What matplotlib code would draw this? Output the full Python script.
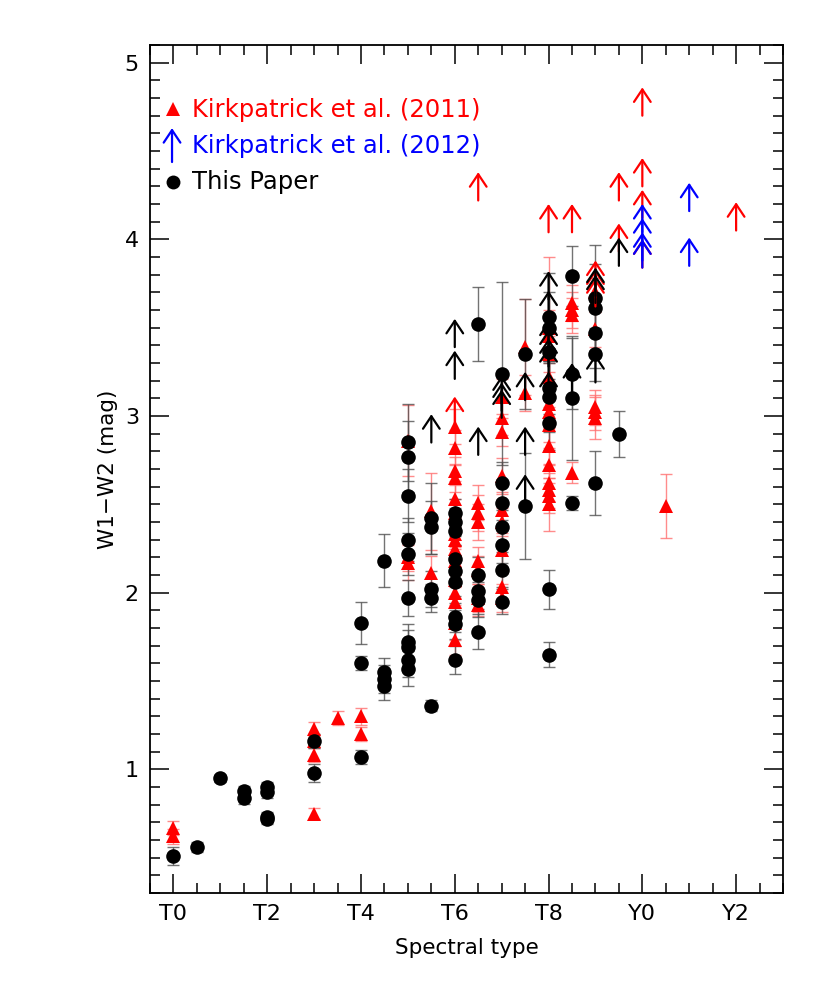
import matplotlib
matplotlib.use('Agg')
import matplotlib.pyplot as plt
from matplotlib.ticker import MultipleLocator

# Spectral type index: T0=0 ... T9=9, Y0=10, Y1=11, Y2=12
xtick_pos = [0, 2, 4, 6, 8, 10, 12]
xtick_labels = ['T0', 'T2', 'T4', 'T6', 'T8', 'Y0', 'Y2']

# Kirkpatrick et al. (2011) measurements (red triangles)
k11_x = [0, 0,
         3, 3, 3, 3, 3.5, 4, 4,
         5, 5, 5, 5.5, 5.5,
         6, 6, 6, 6, 6, 6, 6, 6, 6, 6, 6, 6, 6, 6, 6,
         6.5, 6.5, 6.5, 6.5, 6.5, 6.5, 6.5,
         7, 7, 7, 7, 7, 7, 7, 7, 7,
         7.5, 7.5,
         8, 8, 8, 8, 8, 8, 8, 8, 8, 8, 8, 8, 8,
         8.5, 8.5, 8.5, 8.5,
         9, 9, 9, 9, 9,
         10.5]
k11_y = [0.67, 0.62,
         1.23, 1.16, 1.08, 0.75, 1.29, 1.30, 1.20,
         2.86, 2.20, 2.17, 2.46, 2.11,
         2.94, 2.82, 2.69, 2.65, 2.53, 2.45, 2.33, 2.30, 2.25, 2.18, 2.07, 2.00, 1.95, 1.83, 1.73,
         2.51, 2.45, 2.40, 2.18, 2.13, 1.97, 1.93,
         3.11, 2.99, 2.91, 2.66, 2.47, 2.40, 2.24, 2.03, 1.97,
         3.39, 3.13,
         3.50, 3.45, 3.35, 3.22, 3.07, 3.02, 2.95, 2.83, 2.72, 2.62, 2.58, 2.55, 2.50,
         3.64, 3.60, 3.57, 2.68,
         3.70, 3.49, 3.05, 3.02, 2.99,
         2.49]
k11_err = [0.04, 0.04,
           0.04, 0.04, 0.04, 0.03, 0.04, 0.05, 0.04,
           0.20, 0.08, 0.10, 0.22, 0.10,
           0.10, 0.10, 0.08, 0.08, 0.10, 0.08, 0.08, 0.10, 0.10, 0.08, 0.10, 0.08, 0.08, 0.10, 0.08,
           0.10, 0.10, 0.10, 0.08, 0.08, 0.08, 0.06,
           0.10, 0.10, 0.08, 0.10, 0.10, 0.08, 0.10, 0.08, 0.08,
           0.27, 0.10,
           0.40, 0.15, 0.10, 0.10, 0.10, 0.08, 0.10, 0.10, 0.10, 0.10, 0.10, 0.10, 0.15,
           0.10, 0.10, 0.10, 0.06,
           0.08, 0.10, 0.10, 0.10, 0.12,
           0.18]

# Kirkpatrick et al. (2011) lower limits (red arrows)
k11_lim_x = [6, 6.5, 8, 8.5, 9, 9, 9, 9.5, 9.5, 10, 10, 10, 10, 12]
k11_lim_y = [2.95, 4.22, 4.04, 4.04, 3.72, 3.67, 3.62, 4.22, 3.93, 4.70, 4.30, 4.12, 3.84, 4.05]

# Kirkpatrick et al. (2012) lower limits (blue arrows)
k12_lim_x = [10, 10, 10, 10, 11, 11]
k12_lim_y = [4.04, 3.96, 3.88, 3.84, 4.16, 3.85]

# This paper measurements (black circles)
tp_x = [0, 0.5, 1, 1.5, 1.5, 2, 2, 2, 2,
        3, 3, 4, 4, 4, 4.5, 4.5, 4.5, 4.5,
        5, 5, 5, 5, 5, 5, 5, 5, 5, 5,
        5.5, 5.5, 5.5, 5.5, 5.5,
        6, 6, 6, 6, 6, 6, 6, 6, 6,
        6.5, 6.5, 6.5, 6.5, 6.5,
        7, 7, 7, 7, 7, 7, 7,
        7.5, 7.5,
        8, 8, 8, 8, 8, 8, 8, 8,
        8.5, 8.5, 8.5, 8.5,
        9, 9, 9, 9, 9,
        9.5]
tp_y = [0.51, 0.56, 0.95, 0.875, 0.835, 0.90, 0.87, 0.73, 0.72,
        1.16, 0.98, 1.83, 1.60, 1.07, 2.18, 1.55, 1.51, 1.47,
        2.85, 2.77, 2.55, 2.30, 2.22, 1.97, 1.72, 1.69, 1.62, 1.57,
        2.42, 2.37, 2.02, 1.97, 1.36,
        2.45, 2.40, 2.35, 2.19, 2.12, 2.06, 1.86, 1.82, 1.62,
        3.52, 2.10, 2.01, 1.96, 1.78,
        3.24, 2.62, 2.51, 2.37, 2.27, 2.13, 1.95,
        3.35, 2.49,
        3.56, 3.50, 3.36, 3.16, 3.11, 2.96, 2.02, 1.65,
        3.79, 3.24, 3.10, 2.51,
        3.67, 3.61, 3.47, 3.35, 2.62,
        2.90]
tp_err = [0.05, 0.03, 0.02, 0.03, 0.03, 0.03, 0.03, 0.03, 0.03,
          0.04, 0.05, 0.12, 0.04, 0.04, 0.15, 0.08, 0.08, 0.08,
          0.22, 0.20, 0.15, 0.12, 0.12, 0.10, 0.10, 0.10, 0.10, 0.10,
          0.20, 0.15, 0.10, 0.08, 0.03,
          0.08, 0.08, 0.08, 0.08, 0.08, 0.08, 0.08, 0.08, 0.08,
          0.21, 0.10, 0.10, 0.10, 0.10,
          0.52, 0.12, 0.10, 0.10, 0.10, 0.10, 0.07,
          0.31, 0.30,
          0.25, 0.20, 0.15, 0.15, 0.20, 0.15, 0.11, 0.07,
          0.17, 0.20, 0.35, 0.04,
          0.30, 0.25, 0.20, 0.15, 0.18,
          0.13]

# This paper lower limits (black arrows)
tp_lim_x = [5.5, 6, 6, 6.5, 7, 7, 7, 7.5, 7.5, 7.5,
            8, 8, 8, 8, 8, 8, 8, 8.5, 9, 9, 9, 9.5]
tp_lim_y = [2.85, 3.39, 3.21, 2.78, 3.07, 3.03, 2.99, 3.09, 2.78, 2.51,
            3.66, 3.55, 3.38, 3.33, 3.28, 3.23, 3.09, 3.14, 3.68, 3.64, 3.19, 3.85]

ARROW_LEN = 0.16

fig = plt.figure(figsize=(8.30, 9.88), dpi=100)
ax = fig.add_axes([150/830, 1-893/988, 633/830, 848/988])


def draw_arrows(xs, ys, color):
    for x, y in zip(xs, ys):
        ax.annotate('', xy=(x, y + ARROW_LEN), xytext=(x, y),
                    arrowprops=dict(arrowstyle='->,head_length=0.45,head_width=0.3',
                                    color=color, lw=1.6, shrinkA=0, shrinkB=0,
                                    mutation_scale=20),
                    zorder=5)


# Red triangles with error bars
ax.errorbar(k11_x, k11_y, yerr=k11_err, fmt='none', ecolor='#ff7070',
            elinewidth=1.0, capsize=4, capthick=1.0, alpha=0.8, zorder=2)
ax.plot(k11_x, k11_y, linestyle='none', marker='^', markersize=10,
        color='#ff0000', markeredgewidth=0, zorder=3)

# Black circles with error bars
ax.errorbar(tp_x, tp_y, yerr=tp_err, fmt='none', ecolor='#505050',
            elinewidth=1.0, capsize=4, capthick=1.0, alpha=0.8, zorder=2.5)
ax.plot(tp_x, tp_y, linestyle='none', marker='o', markersize=10.5,
        color='black', markeredgewidth=0, zorder=4)

draw_arrows(k11_lim_x, k11_lim_y, '#ff0000')
draw_arrows(k12_lim_x, k12_lim_y, '#0000ff')
draw_arrows(tp_lim_x, tp_lim_y, 'black')

ax.set_xlim(-0.5, 13)
ax.set_ylim(0.3, 5.1)
ax.set_xticks(xtick_pos)
ax.set_xticklabels(xtick_labels)
ax.xaxis.set_minor_locator(MultipleLocator(0.5))
ax.yaxis.set_major_locator(MultipleLocator(1))
ax.yaxis.set_minor_locator(MultipleLocator(0.1))
ax.tick_params(which='both', direction='in', top=True, right=True, width=1.1)
ax.tick_params(which='major', length=14, labelsize=16, pad=8)
ax.tick_params(which='minor', length=7)
for s in ax.spines.values():
    s.set_linewidth(1.3)

ax.set_xlabel('Spectral type', fontsize=15.5, labelpad=10)
ax.set_ylabel('W1\u2212W2 (mag)', fontsize=15.5, labelpad=5)

# Legend (manual)
ax.plot([0.0363], [0.925], transform=ax.transAxes, marker='^', markersize=10,
        color='#ff0000', markeredgewidth=0, clip_on=False)
ax.text(0.066, 0.923, 'Kirkpatrick et al. (2011)', color='#ff0000',
        transform=ax.transAxes, fontsize=17.5, va='center', ha='left')
ax.annotate('', xy=(0.0348, 0.902), xytext=(0.0348, 0.862),
            xycoords='axes fraction', textcoords='axes fraction',
            arrowprops=dict(arrowstyle='->,head_length=0.45,head_width=0.3',
                            color='#0000ff', lw=1.6, shrinkA=0, shrinkB=0,
                            mutation_scale=20))
ax.text(0.066, 0.881, 'Kirkpatrick et al. (2012)', color='#0000ff',
        transform=ax.transAxes, fontsize=17.5, va='center', ha='left')
ax.plot([0.0363], [0.838], transform=ax.transAxes, marker='o', markersize=10,
        color='black', markeredgewidth=0, clip_on=False)
ax.text(0.066, 0.838, 'This Paper', color='black',
        transform=ax.transAxes, fontsize=17.5, va='center', ha='left')

fig.savefig('out.png', dpi=100)
